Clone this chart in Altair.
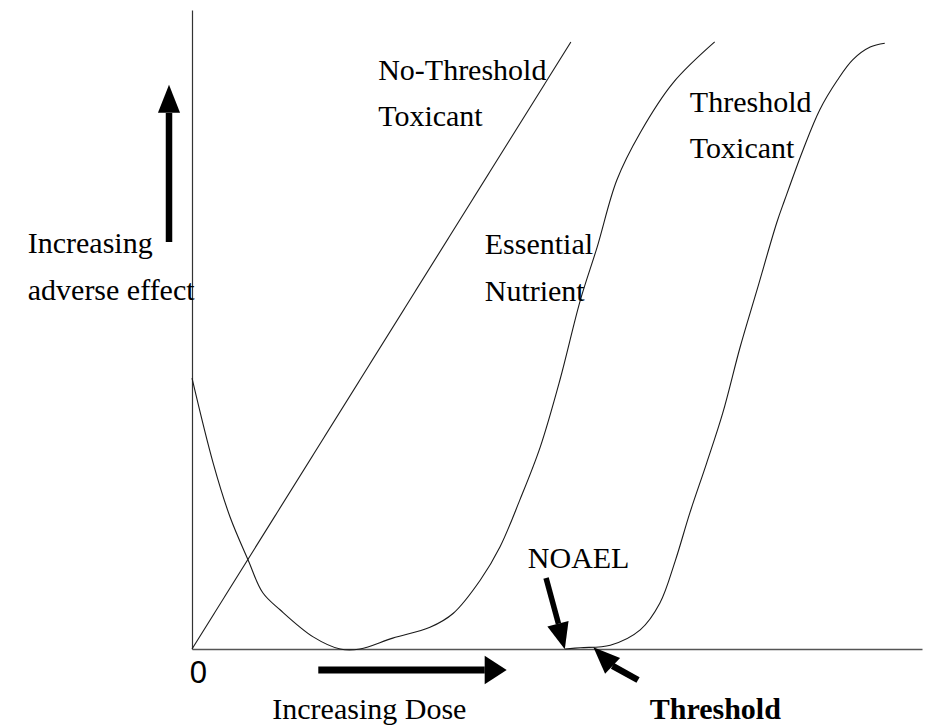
import altair as alt
import pandas as pd

# ---------------- data (dose 0-100, adverse effect 0-100) ----------------
no_threshold_dose = [0.0, 51.9]
no_threshold_effect = [0.0, 95.0]

nutrient_dose = [0.0, 2.9, 5.2, 7.7, 9.7, 12.1, 16.6, 20.3, 23.0, 27.5, 32.6, 35.8,
                 39.5, 42.2, 44.9, 47.7, 50.4, 53.2, 55.5, 58.2, 61.4, 65.9, 71.6]
nutrient_effect = [42.4, 29.1, 20.7, 13.9, 8.8, 6.1, 1.9, 0.0, 0.0, 1.7, 3.4, 5.6,
                   10.8, 16.0, 23.3, 31.6, 42.1, 54.6, 62.9, 73.4, 80.8, 88.6, 95.0]

threshold_dose = [51.1, 53.2, 57.3, 61.4, 64.1, 66.2, 68.2, 70.5, 72.7, 75.1, 77.4,
                  80.1, 81.2, 83.7, 86.0, 88.4, 90.5, 92.9, 94.9]
threshold_effect = [0.0, 0.2, 0.6, 3.0, 7.2, 13.8, 21.3, 29.1, 36.9, 47.3, 56.2,
                    66.7, 70.3, 78.1, 84.4, 89.0, 92.2, 94.2, 94.8]

# labels
label_text = ["No-Threshold", "Toxicant", "Threshold", "Toxicant", "Essential", "Nutrient",
              "Increasing", "adverse effect", "NOAEL", "Increasing Dose"]
label_x = [25.5, 25.5, 68.2, 68.2, 40.1, 40.1, -22.5, -22.5, 46.0, 11.0]
label_y = [89.0, 81.8, 84.0, 76.8, 61.8, 54.5, 62.0, 54.6, 12.7, -11.0]

bold_text = ["Threshold"]
bold_x = [62.7]
bold_y = [-11.0]

zero_text = ["0"]
zero_x = [-0.3]
zero_y = [-5.3]

# annotation arrows: shafts and heads
shaft_x1 = [-3.15, 17.3, 48.5, 57.6]
shaft_y1 = [63.7, -3.29, 11.1, -2.63]
shaft_x2 = [-3.15, 40.1, 50.2, 61.1]
shaft_y2 = [83.9, -3.29, 3.94, -4.85]
shaft_w = [6.5, 7, 5.5, 6.5]

head_x = [-3.15, 41.6, 50.6, 56.3]
head_y = [86.1, -3.29, 1.96, -1.19]
head_shape = ["M0,-1L0.79,1L-0.79,1Z", "M0,-1L1.29,1L-1.29,1Z",
              "M0,-1L0.83,1L-0.83,1Z", "M0,-1L0.81,1L-0.81,1Z"]
head_size = [784, 484, 697, 713]
head_angle = [0, 90, 165, 314]

# ---------------- tables ----------------
curves = pd.concat([
    pd.DataFrame({"dose": no_threshold_dose, "effect": no_threshold_effect, "series": "No-Threshold Toxicant"}),
    pd.DataFrame({"dose": nutrient_dose, "effect": nutrient_effect, "series": "Essential Nutrient"}),
    pd.DataFrame({"dose": threshold_dose, "effect": threshold_effect, "series": "Threshold Toxicant"}),
], ignore_index=True)

labels = pd.DataFrame({"text": label_text, "x": label_x, "y": label_y})
bold = pd.DataFrame({"text": bold_text, "x": bold_x, "y": bold_y})
zero = pd.DataFrame({"text": zero_text, "x": zero_x, "y": zero_y})
shafts = pd.DataFrame({"x": shaft_x1, "y": shaft_y1, "x2": shaft_x2, "y2": shaft_y2, "w": shaft_w})
heads = pd.DataFrame({"x": head_x, "y": head_y, "shape": head_shape, "size": head_size, "angle": head_angle})

xs = alt.Scale(domain=[0, 100], nice=False, zero=False)
ys = alt.Scale(domain=[0, 100], nice=False, zero=False)

x_axis = alt.Axis(domain=True, domainColor="#555555", domainWidth=1.6, ticks=False,
                  labels=False, grid=False, title=None)
y_axis = alt.Axis(domain=True, domainColor="#333333", domainWidth=1.2, ticks=False,
                  labels=False, grid=False, title=None)

lines = alt.Chart(curves).mark_line(color="#1a1a1a", strokeWidth=1.1, interpolate="catmull-rom").encode(
    x=alt.X("dose:Q", scale=xs, axis=x_axis),
    y=alt.Y("effect:Q", scale=ys, axis=y_axis),
    detail="series:N",
)

text_serif = alt.Chart(labels).mark_text(
    align="left", baseline="alphabetic", font="Liberation Serif", fontSize=30, color="black"
).encode(x=alt.X("x:Q", scale=xs), y=alt.Y("y:Q", scale=ys), text="text:N")

text_bold = alt.Chart(bold).mark_text(
    align="left", baseline="alphabetic", font="Liberation Serif", fontSize=30,
    fontWeight="bold", color="black"
).encode(x=alt.X("x:Q", scale=xs), y=alt.Y("y:Q", scale=ys), text="text:N")

text_zero = alt.Chart(zero).mark_text(
    align="left", baseline="alphabetic", font="Liberation Sans", fontSize=31, color="black"
).encode(x=alt.X("x:Q", scale=xs), y=alt.Y("y:Q", scale=ys), text="text:N")

shaft_layer = alt.Chart(shafts).mark_rule(color="black").encode(
    x=alt.X("x:Q", scale=xs), y=alt.Y("y:Q", scale=ys),
    x2="x2:Q", y2="y2:Q",
    strokeWidth=alt.StrokeWidth("w:Q", scale=None),
)

head_layer = alt.Chart(heads).mark_point(filled=True, opacity=1, color="black", strokeWidth=0).encode(
    x=alt.X("x:Q", scale=xs), y=alt.Y("y:Q", scale=ys),
    shape=alt.Shape("shape:N", scale=None),
    size=alt.Size("size:Q", scale=None),
    angle=alt.Angle("angle:Q", scale=None),
)

chart = alt.layer(lines, shaft_layer, head_layer, text_serif, text_bold, text_zero).properties(
    width=730, height=639,
    autosize=alt.AutoSizeParams(type="none"),
    padding={"left": 192, "top": 10, "right": 4, "bottom": 79},
    background="white",
).configure_view(stroke=None)

chart.save("out.html", embed_options={"renderer": "svg", "actions": False})
